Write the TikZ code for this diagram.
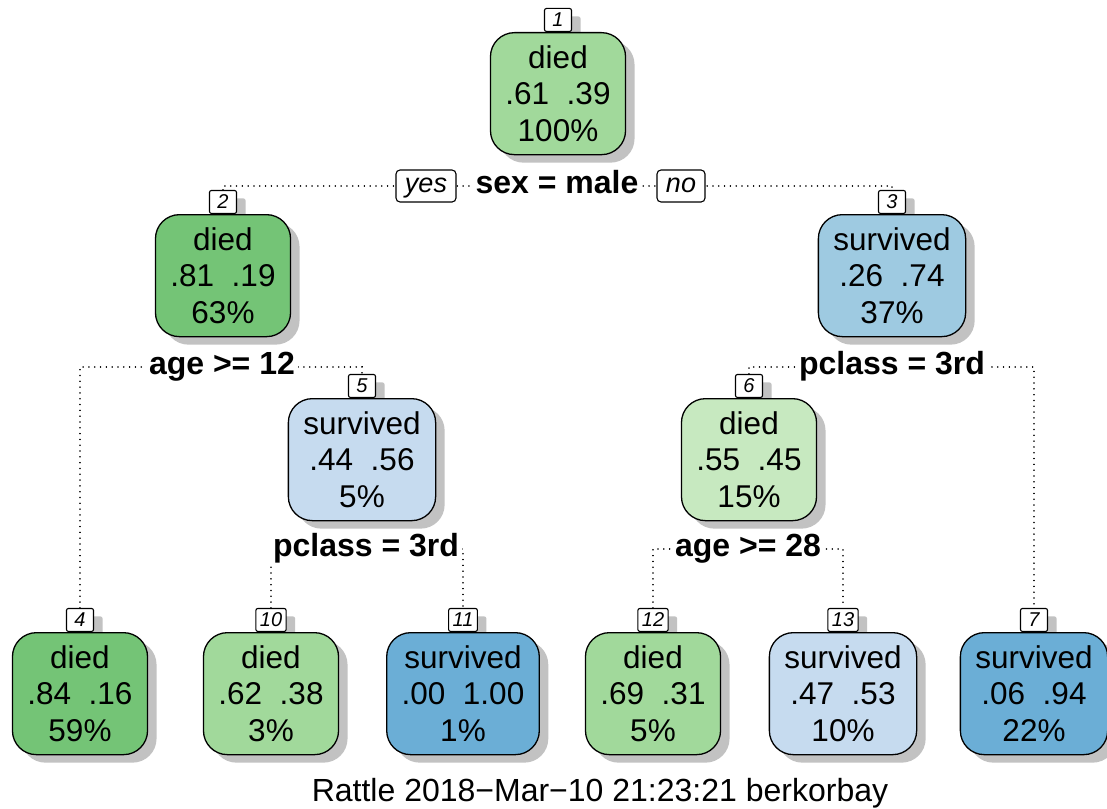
\documentclass[tikz,border=0pt]{standalone}
\usepackage{fontspec}
\setmainfont{Liberation Sans}
\usetikzlibrary{shadows,backgrounds}
\definecolor{gA}{HTML}{74C476}
\definecolor{gB}{HTML}{A1D99B}
\definecolor{gC}{HTML}{C7E9C0}
\definecolor{bA}{HTML}{6BAED6}
\definecolor{bB}{HTML}{9ECAE1}
\definecolor{bC}{HTML}{C6DBEF}
\tikzset{
 shad/.style={drop shadow={shadow xshift=9pt,shadow yshift=-8pt,fill=black!24,opacity=1}},
 leaf/.style={draw, line width=1.3pt, rounded corners=24pt, minimum width=134pt, minimum height=122pt, inner xsep=15pt, inner ysep=0pt, align=center, font=\fontsize{31.5}{36.5}\selectfont, anchor=north, shad},
 nlab/.style={draw, fill=white, line width=1.1pt, rounded corners=2pt, minimum width=27pt, minimum height=23pt, inner xsep=4pt, inner ysep=0pt, font=\fontsize{20}{20}\selectfont\itshape, anchor=south, shad},
 split/.style={fill=white, inner xsep=3pt, inner ysep=1pt, font=\fontsize{32}{32}\selectfont\bfseries, text height=22pt, text depth=7pt},
 yn/.style={draw, fill=white, line width=1.1pt, rounded corners=4pt, font=\fontsize{27}{27}\selectfont\itshape, minimum height=32pt, inner xsep=9pt, inner ysep=0pt, text height=18pt, text depth=6pt},
 conn/.style={line width=1.6pt, dash pattern=on 0.01pt off 5.8pt, line cap=round},
 foot/.style={font=\fontsize{32}{32}\selectfont},
}
\begin{document}
\begin{tikzpicture}[x=1pt,y=-1pt]
\useasboundingbox (0,0) rectangle (1107,808);
% number labels (drawn first so that boxes cover their shadows)
\node[nlab] (l1) at (558,32) {1};
\node[nlab] (l2) at (223,214) {2};
\node[nlab] (l3) at (892,214) {3};
\node[nlab] (l5) at (362,398) {5};
\node[nlab] (l6) at (749,398) {6};
\node[nlab] (l4) at (80,632) {4};
\node[nlab] (l10) at (271,632) {10};
\node[nlab] (l11) at (463,632) {11};
\node[nlab] (l12) at (653,632) {12};
\node[nlab] (l13) at (843,632) {13};
\node[nlab] (l7) at (1034,632) {7};
% boxes
\node[leaf, fill=gB] (n1) at (558,32) {died\\.61~~.39\\100\%};
\node[leaf, fill=gA] (n2) at (223,214) {died\\.81~~.19\\63\%};
\node[leaf, fill=bB] (n3) at (892,214) {survived\\.26~~.74\\37\%};
\node[leaf, fill=bC] (n5) at (362,398) {survived\\.44~~.56\\5\%};
\node[leaf, fill=gC] (n6) at (749,398) {died\\.55~~.45\\15\%};
\node[leaf, fill=gA] (n4) at (80,632) {died\\.84~~.16\\59\%};
\node[leaf, fill=gB] (n10) at (271,632) {died\\.62~~.38\\3\%};
\node[leaf, fill=bA] (n11) at (463,632) {survived\\.00~~1.00\\1\%};
\node[leaf, fill=gB] (n12) at (653,632) {died\\.69~~.31\\5\%};
\node[leaf, fill=bC] (n13) at (843,632) {survived\\.47~~.53\\10\%};
\node[leaf, fill=bA] (n7) at (1034,632) {survived\\.06~~.94\\22\%};
% split labels
\node[split] (s1) at (557,186) {sex = male};
\node[yn] (yes) at (426,186) {yes};
\node[yn] (no) at (681,186) {no};
\node[split] (s2) at (222,367) {age >= 12};
\node[split] (s3) at (892,367) {pclass = 3rd};
\node[split] (s5) at (366,549) {pclass = 3rd};
\node[split] (s6) at (748,549) {age >= 28};
% footer
\node[foot] (ft) at (600,793) {Rattle 2018−Mar−10 21:23:21 berkorbay};
% connectors
\begin{scope}[on background layer]
\draw[conn] (l2.north) |- (s1.center) -| (l3.north);
\draw[conn] (l4.north) |- (s2.center) -| (l5.north);
\draw[conn] (l6.north) |- (s3.center) -| (l7.north);
\draw[conn] (l10.north) |- (s5.center) -| (l11.north);
\draw[conn] (l12.north) |- (s6.center) -| (l13.north);
\end{scope}
\end{tikzpicture}
\end{document}
